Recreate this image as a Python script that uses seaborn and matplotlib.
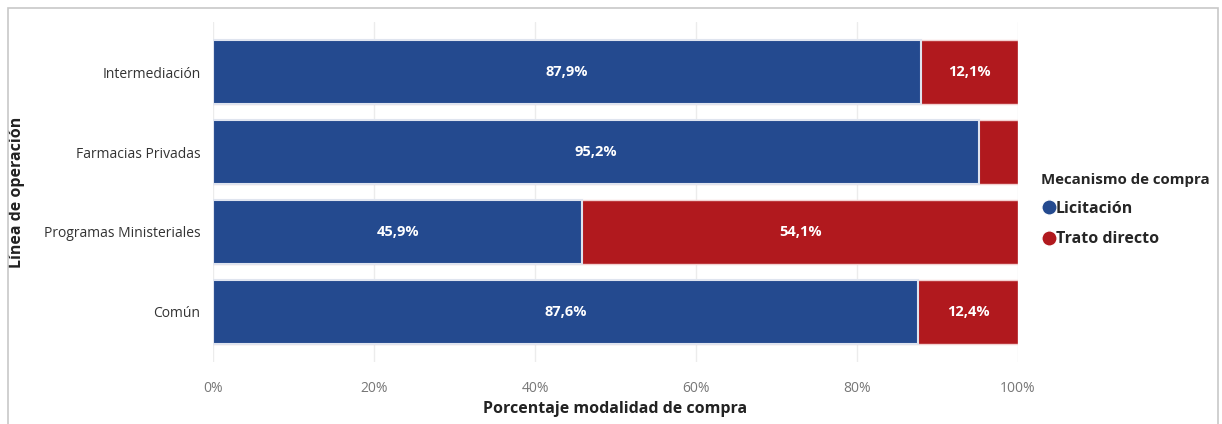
import pandas as pd
import numpy as np
import matplotlib.pyplot as plt
import seaborn as sns
from matplotlib.patches import Rectangle
from matplotlib.lines import Line2D

# data
lineas = ["Intermediación", "Farmacias Privadas", "Programas Ministeriales", "Común"]
licitacion = [87.9, 95.2, 45.9, 87.6]
trato_directo = [12.1, 4.8, 54.1, 12.4]
x_ticks = [0, 20, 40, 60, 80, 100]

blue = "#244A8F"
red = "#B1191E"

df = pd.DataFrame({"linea": lineas, "Licitación": licitacion, "Trato directo": trato_directo})
df["total"] = df["Licitación"] + df["Trato directo"]

sns.set_style("white")
plt.rcParams["font.family"] = ["Open Sans", "DejaVu Sans"]

fig = plt.figure(figsize=(12.22, 4.24), dpi=100)
ax = fig.add_axes([213 / 1222, 1 - 362 / 424, (1018 - 213) / 1222, (362 - 22) / 424])

# stacked bars: red total behind, blue on top
sns.barplot(data=df, x="total", y="linea", color=red, width=0.8, saturation=1,
            edgecolor="#f2d0d0", linewidth=1.0, ax=ax, zorder=2)
sns.barplot(data=df, x="Licitación", y="linea", color=blue, width=0.8, saturation=1,
            edgecolor="#dfe4ef", linewidth=1.5, ax=ax, zorder=3)

# labels inside bars
for i, (lic, td) in enumerate(zip(licitacion, trato_directo)):
    ax.text(lic / 2, i, f"{lic:.1f}%".replace(".", ","), ha="center", va="center",
            color="white", fontsize=10.5, fontweight="bold", zorder=4)
    if td > 8:
        ax.text(lic + td / 2, i, f"{td:.1f}%".replace(".", ","), ha="center", va="center",
                color="white", fontsize=10.5, fontweight="bold", zorder=4)

ax.set_xlim(0, 100)
ax.set_ylim(3.63, -0.63)
ax.set_xticks(x_ticks)
ax.set_xticklabels([f"{t}%" for t in x_ticks], color="#777777", fontsize=10)
ax.tick_params(axis="y", labelsize=10, labelcolor="#333333", length=0, pad=9)
ax.tick_params(axis="x", length=0, pad=14)
ax.xaxis.grid(True, color="#ececec", linewidth=1, zorder=0)
ax.set_axisbelow(True)
for s in ax.spines.values():
    s.set_visible(False)

ax.set_xlabel("Porcentaje modalidad de compra", fontsize=11.5, fontweight="bold",
              color="#222222", labelpad=3)
ax.set_ylabel("Línea de operación", fontsize=11.5, fontweight="bold", color="#222222")
ax.yaxis.set_label_coords(-188 / 805, 0.5)

handles = [Line2D([0], [0], marker="o", color="w", markerfacecolor=blue, markersize=11),
           Line2D([0], [0], marker="o", color="w", markerfacecolor=red, markersize=11)]
leg = fig.legend(handles, ["Licitación", "Trato directo"], title="Mecanismo de compra",
                 loc="center left", bbox_to_anchor=(1030 / 1222, 1 - 210 / 424), frameon=False,
                 prop={"size": 11.5, "weight": "bold"}, handletextpad=-0.1, handlelength=1.0,
                 labelspacing=0.9, alignment="left", borderpad=0.2)
leg.get_title().set_fontweight("bold")
leg.get_title().set_fontsize(10.8)

# outer light gray frame
fig.patches.append(Rectangle((8 / 1222, -0.02), 1210 / 1222, 1 - 8 / 424 + 0.02,
                             transform=fig.transFigure, fill=False,
                             edgecolor="#c8c8c8", linewidth=1.2))

fig.savefig("out.png", dpi=100)
